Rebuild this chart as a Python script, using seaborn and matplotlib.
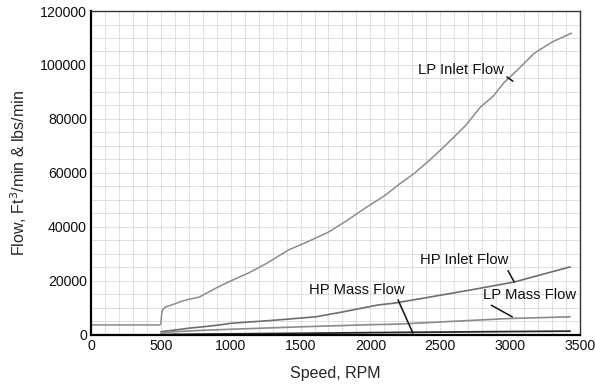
import matplotlib
matplotlib.use("Agg")
import matplotlib.pyplot as plt
import seaborn as sns
import pandas as pd
from matplotlib.ticker import MultipleLocator

sns.set_theme(style="white")
plt.rcParams['font.family'] = ['Liberation Sans', 'DejaVu Sans']

# LP Inlet Flow (ft3/min)
lp_inlet_rpm = [0, 250, 490, 500, 505, 512, 530, 560, 600, 650, 700, 775, 900, 1000, 1130, 1250,
                1415, 1550, 1700, 1830, 1963, 2100, 2198, 2318, 2440, 2553, 2680, 2788, 2880,
                2959, 3060, 3172, 3300, 3407, 3440]
lp_inlet_flow = [3700, 3700, 3700, 4000, 7500, 9250, 10300, 10800, 11500, 12500, 13200, 14000,
                 17500, 20000, 23000, 26300, 31500, 34500, 38100, 42300, 47000, 51500, 55500,
                 60000, 65500, 71000, 77500, 84400, 88500, 93600, 98500, 104300, 108500,
                 111000, 111800]

# HP Inlet Flow (ft3/min)
hp_inlet_rpm = [500, 600, 700, 800, 920, 1000, 1300, 1607, 1800, 2055, 2175, 2400, 2700, 3030,
                3200, 3430]
hp_inlet_flow = [1200, 1800, 2500, 3000, 3700, 4300, 5400, 6700, 8500, 11100, 11800, 13800,
                 16500, 19600, 22000, 25200]

# LP Mass Flow (lbs/min)
lp_mass_rpm = [500, 600, 800, 1000, 1500, 2000, 2200, 2500, 3000, 3430]
lp_mass_flow = [600, 1200, 1700, 2100, 3000, 3800, 4000, 4800, 6100, 6700]

# HP Mass Flow (lbs/min)
hp_mass_rpm = [500, 600, 800, 1000, 1500, 2000, 2500, 3000, 3430]
hp_mass_flow = [0, 200, 300, 400, 600, 850, 1050, 1250, 1400]

series = [
    ("LP Inlet Flow", lp_inlet_rpm, lp_inlet_flow, "#8c8c8c", 1.1),
    ("HP Inlet Flow", hp_inlet_rpm, hp_inlet_flow, "#6e6e6e", 1.2),
    ("LP Mass Flow", lp_mass_rpm, lp_mass_flow, "#8a8a8a", 1.2),
    ("HP Mass Flow", hp_mass_rpm, hp_mass_flow, "#2a2a2a", 1.3),
]

fig = plt.figure(figsize=(5.96, 3.89), dpi=100)
ax = fig.add_axes([0.1527, 0.139, 0.8203, 0.8327])

for name, xs, ys, col, lw in series:
    df = pd.DataFrame({"Speed": xs, "Flow": ys})
    sns.lineplot(data=df, x="Speed", y="Flow", ax=ax, color=col, linewidth=lw,
                 estimator=None, sort=False)

ax.set_xlim(0, 3500)
ax.set_ylim(0, 120000)
ax.xaxis.set_major_locator(MultipleLocator(500))
ax.yaxis.set_major_locator(MultipleLocator(20000))
ax.xaxis.set_minor_locator(MultipleLocator(100))
ax.yaxis.set_minor_locator(MultipleLocator(5000))
ax.grid(True, which="both", color="#b8b8b8", linestyle=(0, (1, 1)), linewidth=0.6)
ax.tick_params(axis="both", which="both", length=0, labelsize=10.2, colors="#111111", pad=3)

for side in ["left", "bottom"]:
    ax.spines[side].set_linewidth(1.6)
    ax.spines[side].set_color("black")
for side in ["top", "right"]:
    ax.spines[side].set_linewidth(1.0)
    ax.spines[side].set_color("#333333")

ax.set_xlabel("Speed, RPM", fontsize=11.5, labelpad=9)
ax.set_ylabel("Flow, Ft$^3$/min & lbs/min", fontsize=11.5, labelpad=8)

ann = dict(fontsize=10.7, color="#111111")
arrow = dict(arrowstyle="-", color="#111111", lw=1.1)
ax.annotate("LP Inlet Flow", xy=(3020, 94000), xytext=(2646, 98000), ha="center", va="center",
            arrowprops=dict(arrow, shrinkA=0, shrinkB=0, relpos=(1.0, 0.2)), **ann)
ax.annotate("HP Inlet Flow", xy=(3030, 19600), xytext=(2675, 27600), ha="center", va="center",
            arrowprops=dict(arrow, shrinkA=0, shrinkB=0, relpos=(0.97, 0.0)), **ann)
ax.annotate("HP Mass Flow", xy=(2304, 700), xytext=(1900, 16800), ha="center", va="center",
            arrowprops=dict(arrow, shrinkA=0, shrinkB=0, relpos=(0.92, 0.0)), **ann)
ax.annotate("LP Mass Flow", xy=(3016, 6700), xytext=(3137, 14800), ha="center", va="center",
            arrowprops=dict(arrow, shrinkA=0, shrinkB=0, relpos=(0.03, 0.0)), **ann)

fig.savefig("out.png", dpi=100)
